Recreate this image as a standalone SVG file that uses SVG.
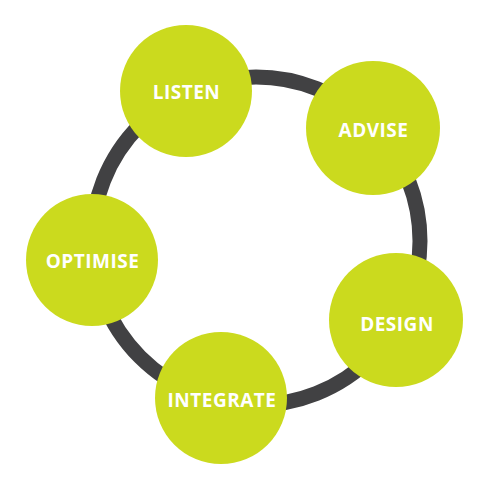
<svg xmlns="http://www.w3.org/2000/svg" width="500" height="491" viewBox="0 0 500 491">
<style>
.node circle{fill:#cbda1e}
.node text{font-family:"Open Sans","Liberation Sans",sans-serif;font-weight:700;font-size:19px;letter-spacing:0.5px;fill:#fff;text-anchor:middle}
.ring{fill:none;stroke:#414143;stroke-width:15}
</style>
<rect width="500" height="491" fill="#fff"/>
<g id="connectors">
<circle class="ring" cx="256" cy="241" r="164"/>
</g>
<g id="listen" class="node"><circle cx="186" cy="91" r="66"/><text x="186.5" y="99">LISTEN</text></g>
<g id="advise" class="node"><circle cx="373" cy="128" r="67"/><text x="373.5" y="137">ADVISE</text></g>
<g id="design" class="node"><circle cx="396" cy="320" r="67"/><text x="397" y="331">DESIGN</text></g>
<g id="integrate" class="node"><circle cx="221" cy="398" r="66"/><text x="222" y="407">INTEGRATE</text></g>
<g id="optimise" class="node"><circle cx="92" cy="260" r="66"/><text x="92.5" y="268">OPTIMISE</text></g>
</svg>
